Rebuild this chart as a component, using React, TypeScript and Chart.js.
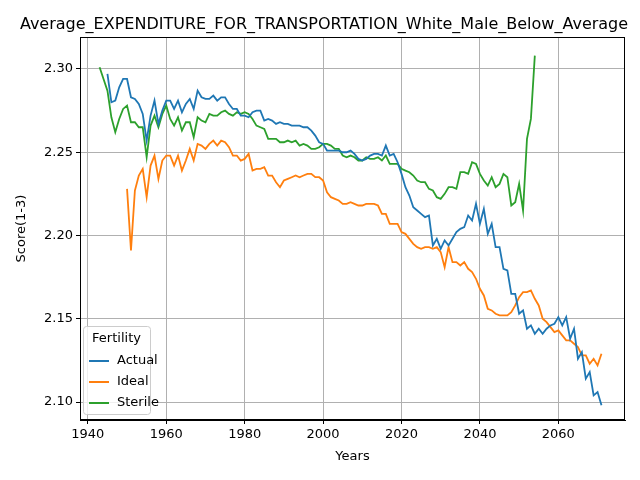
import React, { useEffect, useRef } from "react";
import { Chart, registerables } from "chart.js";
Chart.register(...registerables);

const actualStart = 1945;
const actual = [2.297,2.280,2.281,2.289,2.294,2.294,2.283,2.282,2.279,2.273,2.257,2.272,2.281,2.267,2.275,2.281,2.281,2.276,2.281,2.274,2.279,2.282,2.276,2.287,2.283,2.282,2.282,2.284,2.281,2.283,2.283,2.279,2.276,2.276,2.272,2.272,2.271,2.274,2.275,2.275,2.269,2.270,2.269,2.267,2.268,2.267,2.267,2.266,2.266,2.266,2.265,2.265,2.263,2.260,2.256,2.255,2.251,2.251,2.251,2.251,2.250,2.250,2.251,2.249,2.246,2.245,2.246,2.248,2.249,2.249,2.248,2.254,2.248,2.249,2.244,2.237,2.229,2.224,2.217,2.215,2.213,2.211,2.212,2.194,2.198,2.192,2.197,2.194,2.198,2.202,2.204,2.205,2.212,2.209,2.219,2.207,2.216,2.201,2.207,2.193,2.193,2.180,2.179,2.165,2.165,2.153,2.155,2.144,2.146,2.141,2.144,2.141,2.144,2.146,2.147,2.151,2.146,2.151,2.138,2.144,2.126,2.130,2.114,2.118,2.104,2.106,2.098];
const idealStart = 1950;
const ideal = [2.228,2.191,2.227,2.236,2.240,2.223,2.242,2.248,2.234,2.245,2.248,2.248,2.242,2.248,2.239,2.245,2.252,2.245,2.255,2.254,2.252,2.255,2.257,2.254,2.257,2.256,2.253,2.248,2.248,2.245,2.246,2.249,2.239,2.240,2.240,2.241,2.236,2.236,2.232,2.229,2.233,2.234,2.235,2.236,2.235,2.236,2.237,2.237,2.235,2.235,2.233,2.226,2.223,2.222,2.221,2.219,2.219,2.220,2.219,2.218,2.218,2.219,2.219,2.219,2.218,2.213,2.213,2.207,2.207,2.207,2.202,2.201,2.198,2.195,2.193,2.192,2.193,2.193,2.192,2.193,2.190,2.181,2.193,2.184,2.184,2.182,2.184,2.180,2.178,2.174,2.168,2.164,2.156,2.155,2.153,2.152,2.152,2.152,2.154,2.158,2.163,2.166,2.166,2.167,2.162,2.158,2.150,2.148,2.145,2.142,2.143,2.140,2.137,2.137,2.135,2.133,2.128,2.128,2.123,2.126,2.122,2.129];
const sterileStart = 1943;
const sterile = [2.301,2.294,2.287,2.271,2.262,2.270,2.276,2.278,2.268,2.268,2.265,2.265,2.247,2.266,2.272,2.265,2.273,2.278,2.270,2.266,2.271,2.263,2.268,2.268,2.259,2.271,2.269,2.268,2.273,2.272,2.272,2.274,2.275,2.273,2.272,2.274,2.273,2.274,2.273,2.270,2.266,2.265,2.264,2.258,2.258,2.258,2.256,2.256,2.257,2.256,2.257,2.254,2.255,2.254,2.252,2.252,2.253,2.255,2.255,2.254,2.252,2.252,2.248,2.247,2.248,2.247,2.245,2.245,2.247,2.246,2.246,2.247,2.245,2.248,2.243,2.243,2.243,2.240,2.239,2.238,2.236,2.233,2.232,2.232,2.228,2.227,2.223,2.222,2.225,2.229,2.229,2.228,2.238,2.238,2.237,2.244,2.243,2.237,2.233,2.230,2.235,2.229,2.231,2.237,2.235,2.218,2.220,2.231,2.215,2.258,2.270,2.308];
const xTicks = [1940, 1960, 1980, 2000, 2020, 2040, 2060];
const yTicks = [2.10, 2.15, 2.20, 2.25, 2.30];
const seriesNames = ["Actual", "Ideal", "Sterile"];
const colors = ["#1f77b4", "#ff7f0e", "#2ca02c"];
const titleText = "Average_EXPENDITURE_FOR_TRANSPORTATION_White_Male_Below_Average";

const toPts = (start: number, arr: number[]) => arr.map((y, i) => ({ x: start + i, y }));
const FONT = "'DejaVu Sans', sans-serif";

const customPlugin = {
  id: "mpl",
  afterDraw(chart: any) {
    const ctx = chart.ctx;
    const ca = chart.chartArea;
    ctx.save();
    ctx.fillStyle = "#000";
    ctx.font = `16px ${FONT}`;
    ctx.textAlign = "center";
    ctx.textBaseline = "alphabetic";
    ctx.fillText(titleText, 324, 29);
    // axis titles
    ctx.font = `13px ${FONT}`;
    ctx.textBaseline = "middle";
    ctx.fillText("Years", (ca.left + ca.right) / 2, 457);
    ctx.save();
    ctx.translate(22, (ca.top + ca.bottom) / 2);
    ctx.rotate(-Math.PI / 2);
    ctx.fillText("Score(1-3)", 0, 0);
    ctx.restore();
    // frame
    ctx.strokeStyle = "#000";
    ctx.lineWidth = 1;
    ctx.strokeRect(ca.left + 0.5, ca.top + 0.5, ca.right - ca.left - 1, ca.bottom - ca.top - 1);
    // legend
    const lx = ca.left + 3, ly = ca.bottom - 94, lw = 67, lh = 88;
    ctx.fillStyle = "rgba(255,255,255,0.8)";
    ctx.strokeStyle = "#cccccc";
    ctx.beginPath();
    (ctx as any).roundRect(lx + 0.5, ly + 0.5, lw, lh, 3);
    ctx.fill();
    ctx.stroke();
    ctx.fillStyle = "#000";
    ctx.font = `13px ${FONT}`;
    ctx.textAlign = "center";
    ctx.textBaseline = "middle";
    ctx.fillText("Fertility", lx + lw / 2, ly + 13);
    ctx.textAlign = "left";
    seriesNames.forEach((n, i) => {
      const yy = ly + 35 + i * 21;
      ctx.strokeStyle = colors[i];
      ctx.lineWidth = 2;
      ctx.beginPath();
      ctx.moveTo(lx + 6, yy);
      ctx.lineTo(lx + 26, yy);
      ctx.stroke();
      ctx.fillStyle = "#000";
      ctx.fillText(n, lx + 34, yy);
    });
    ctx.restore();
  },
};

export default function App() {
  const ref = useRef<HTMLCanvasElement>(null);
  useEffect(() => {
    const chart = new Chart(ref.current!, {
      type: "line",
      data: {
        datasets: [
          { label: "Actual", data: toPts(actualStart, actual) },
          { label: "Ideal", data: toPts(idealStart, ideal) },
          { label: "Sterile", data: toPts(sterileStart, sterile) },
        ].map((d, i) => ({ ...d, borderColor: colors[i], backgroundColor: colors[i], borderWidth: 1.8, pointRadius: 0, tension: 0 })),
      },
      options: {
        animation: false,
        responsive: false,
        layout: { padding: { left: 0, top: 37, right: 15, bottom: 0 } },
        plugins: { legend: { display: false }, title: { display: false }, tooltip: { enabled: false } },
        scales: {
          x: {
            type: "linear",
            min: 1938,
            max: 2077,
            afterBuildTicks: (s: any) => { s.ticks = xTicks.map((v) => ({ value: v })); },
            afterFit: (s: any) => { s.height = 60; },
            ticks: { color: "#000", font: { family: FONT, size: 13 }, maxRotation: 0, callback: (v: any) => String(v) },
            grid: { color: "#b0b0b0", tickColor: "#000", tickLength: 4 },
            border: { color: "#000" },
          },
          y: {
            min: 2.0892,
            max: 2.3192,
            afterBuildTicks: (s: any) => { s.ticks = yTicks.map((v) => ({ value: v })); },
            afterFit: (s: any) => { s.width = 80; },
            ticks: { color: "#000", font: { family: FONT, size: 13 }, callback: (v: any) => Number(v).toFixed(2) },
            grid: { color: "#b0b0b0", tickColor: "#000", tickLength: 4 },
            border: { color: "#000" },
          },
        },
      },
      plugins: [customPlugin],
    } as any);
    return () => chart.destroy();
  }, []);
  return (
    <div style={{ position: "fixed", left: 0, top: 0, width: 640, height: 480, background: "#fff" }}>
      <canvas ref={ref} width={640} height={480} style={{ width: 640, height: 480 }} />
    </div>
  );
}
